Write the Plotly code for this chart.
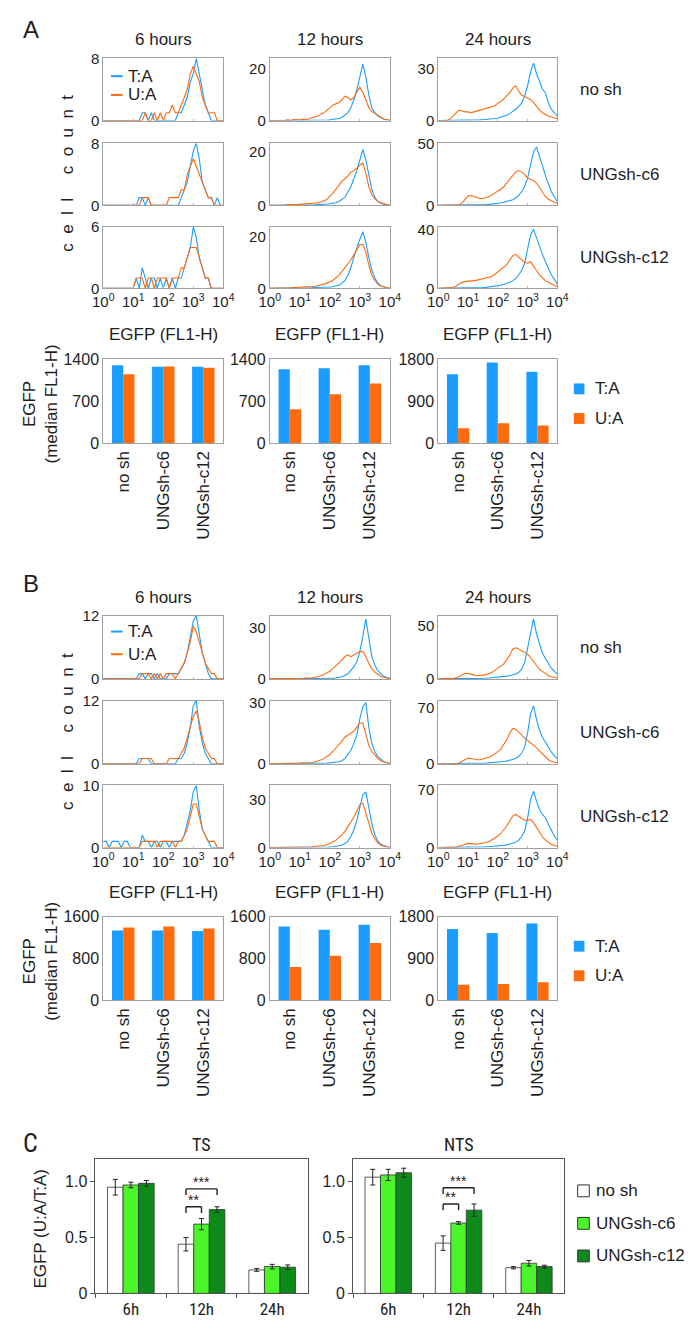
import plotly.graph_objects as go

W, H = 693, 1325
FONT = "Liberation Sans, Arial, Helvetica, sans-serif"
NARROW = "Liberation Sans Narrow, Arial Narrow, Roboto Condensed, DejaVu Sans Condensed, Liberation Sans, sans-serif"
BLUE = "#1a9dff"
ORANGE = "#ff6a0d"
LIGHT_GREEN = "#4cf52a"
DARK_GREEN = "#0c8a1a"
BOX = "#a0a0a0"
TXT = "#1e1e1e"

# ---------------- data ----------------
LOG_BINS = [0.0, 0.1, 0.2, 0.3, 0.4, 0.5, 0.6, 0.7, 0.8, 0.9,
            1.0, 1.1, 1.2, 1.3, 1.4, 1.5, 1.6, 1.7, 1.8, 1.9,
            2.0, 2.1, 2.2, 2.3, 2.4, 2.5, 2.6, 2.7, 2.8, 2.9,
            3.0, 3.1, 3.2, 3.3, 3.4, 3.5, 3.6, 3.7, 3.8, 3.9, 4.0]
DECADES = [1, 10, 100, 1000, 10000]
DECADE_TEXT = ["10<sup>0</sup>", "10<sup>1</sup>", "10<sup>2</sup>", "10<sup>3</sup>", "10<sup>4</sup>"]
TIMES_TITLE = ["6 hours", "12 hours", "24 hours"]
GROUPS = ["no sh", "UNGsh-c6", "UNGsh-c12"]

# Panel A histograms (cell count per bin)
A_6h_nosh_TA = [0,0,0,0,0,0,0,0,0,0, 0,0,0,1,1,0,1,0,0,0, 0,0,0,0,0,1,1,2,3,5, 6,8,6,4,2,1,0,0,0,0, 0]
A_6h_nosh_UA = [0,0,0,0,0,0,0,0,0,0, 0,0,0,0,1,0,0,1,0,1, 0,1,1,2,1,1,2,3,4,6, 7,6,5,3,2,1,1,1,0,0, 0]
A_6h_c6_TA = [0,0,0,0,0,0,0,0,0,0, 0,0,1,1,0,1,0,0,0,0, 0,0,0,0,0,0,1,2,3,5, 7,8,6,3,2,1,1,0,1,0, 0]
A_6h_c6_UA = [0,0,0,0,0,0,0,0,0,0, 0,0,0,1,1,1,0,0,0,0, 0,0,1,1,1,1,2,2,4,5, 6,5,4,3,2,1,1,0,0,0, 0]
A_6h_c12_TA = [0,0,0,0,0,0,0,0,0,0, 0,1,0,2,1,0,1,1,0,1, 0,1,0,1,0,1,1,2,3,4, 6,5,3,2,1,1,0,0,0,0, 0]
A_6h_c12_UA = [0,0,0,0,0,0,0,0,0,0, 0,1,1,1,0,1,1,0,1,1, 1,1,0,1,1,1,2,2,3,4, 4,4,3,2,1,1,0,0,0,0, 0]

A_12h_nosh_TA = [0,0,0,0,0,0,0,0,0,0, 0,0,0,0,0,0,0,0,0.2,0.2, 0.3,0.4,0.5,0.8,1.2,2,3,5,8,12, 17,22,17,10,5,3,1.8,1,0.5,0.3, 0.1]
A_12h_nosh_UA = [0,0,0,0,0,0,0.3,0,0.4,0.3, 0.3,0.5,0.4,0.7,1,1.2,1.8,2.5,3,4, 5,6,6.5,7,8,9.5,9,8,9,11, 13,11,8,5,3.5,3,2,1.2,0.6,0.3, 0.1]
A_12h_c6_TA = [0,0,0,0,0,0,0,0,0,0, 0,0,0,0,0.2,0.2,0.3,0.3,0.4,0.5, 0.6,0.8,1,1.5,2.2,3,5,7,10,13, 17,21,17,11,6,3,1.5,0.8,0.4,0.2, 0]
A_12h_c6_UA = [0,0,0,0,0.2,0,0.3,0.2,0.3,0.3, 0.4,0.3,0.5,0.5,0.6,0.8,1,1.3,1.7,2.2, 3.5,4.5,6,7.5,9,10,11,12.5,13,14, 15,16,12,7,4,2.5,1.5,1,0.5,0.2, 0.1]
A_12h_c12_TA = [0,0,0,0,0,0,0,0,0,0, 0,0,0,0,0.2,0.3,0.3,0.3,0.4,0.4, 0.5,0.6,0.8,1.2,2,3,5,8,12,16, 19,22,18,12,7,4,2,1,0.5,0.2, 0]
A_12h_c12_UA = [0,0,0,0,0,0,0,0.2,0.3,0.2, 0.3,0.5,0.5,0.6,0.7,0.8,1,1.2,1.6,2, 2.5,3,4,5,6.5,8,9.5,11,13,15, 17,17,14,9,5,3,1.5,0.8,0.4,0.2, 0.1]

A_24h_nosh_TA = [0,0,0,0,0,0,0,0,0,0, 0,0.1,0.2,0.3,0.4,0.5,0.6,0.8,1,1.2, 1.5,2,2.5,3,4,5,6.5,8,10,14, 20,28,33,27,22,18,16,10,6.5,4.5, 2.5]
A_24h_nosh_UA = [0,0,0,0,1,2.5,4.5,6,5.5,5, 5,4.5,5,5.5,6,6.5,7,7.5,8,8.5, 10,11,12.5,14,16,18.5,20,17,14.5,14, 13,12,10.5,8,6,4.5,3.5,2.5,2,1.5, 1]
A_24h_c6_TA = [0,0,0,0,0,0,0,0,0,0, 0,0,0.2,0.3,0.4,0.5,0.6,0.8,1,1.2, 1.5,2,2.5,3,3.5,4.5,6,8,11,15, 22,33,43,47,40,32,24,17,11,7, 3]
A_24h_c6_UA = [0,0,0,0,0,0,0,0.5,2,5, 7.5,8,7,6,5.5,5.5,6,7,8.5,10, 11,13,15,18,21,24,27,28,27,25, 22,21,20,18,14,10,7,5,3.5,2.5, 1.5]
A_24h_c12_TA = [0,0,0,0,0,0,0,0,0,0, 0,0,0.2,0.3,0.4,0.5,0.6,0.8,1,1.3, 1.6,2,2.5,3,4,5,6.5,9,12,17, 26,36,40,34,28,23,18,13,9,6, 3]
A_24h_c12_UA = [0,0,0,0,0,0.5,1.5,3,4,4.5, 5,5,5,5.5,5.5,6,6.5,7,8,9.5, 11,12.5,14,16,19,22,23,21,19,17.5, 17,18,15,12,9,7,5,4,3,2, 1]

# Panel B histograms
B_6h_nosh_TA = [0,0,0,0,0,0,0,0,0,0, 0,0,1,1,0,1,1,0,1,0, 0,0,1,1,1,1,2,3,5,8, 11,12,8,5,3,1,0,0,0,0, 0]
B_6h_nosh_UA = [0,0,0,0,0,0,0,0,0,0, 0,0,0,1,1,1,0,1,0,1, 0,1,1,1,0,1,2,3,5,7, 10,9,7,5,3,2,1,1,0,0, 0]
B_6h_c6_TA = [0,0,0,0,0,0,0,0,0,0, 0,0,1,1,1,1,0,0,0,0, 0,0,0,0,0,1,1,2,4,7, 11,12,7,4,2,1,0,0,0,0, 0]
B_6h_c6_UA = [0,0,0,0,0,0,0,0,0,0, 0,0,0,1,1,1,1,0,0,0, 0,0,1,1,1,1,2,3,5,7, 9,10,8,5,3,2,1,1,0,0, 0]
B_6h_c12_TA = [1,1,0,1,1,1,0,1,1,0, 0,0,0,2,1,1,0,1,1,0, 1,1,0,1,1,1,1,2,4,6, 9,10,6,3,2,1,0,0,0,0, 0]
B_6h_c12_UA = [0,0,0,0,0,0,0,0,0,0, 0,0,0,1,1,1,1,1,0,1, 1,1,1,1,0,1,1,2,3,5, 7,7,5,3,2,1,1,1,0,0, 0]

B_12h_nosh_TA = [0,0,0,0,0,0,0,0,0,0, 0,0,0,0,0,0,0,0,0,0.2, 0.3,0.4,0.5,0.8,1.2,2,3,5,7,10, 16,25,35,24,13,8,5,3,1.5,0.8, 0.3]
B_12h_nosh_UA = [0,0,0,0,0,0,0.4,0.3,0,0.3, 0.3,0.4,0.5,0.4,0.6,0.8,1.2,2,2.5,3.5, 4.5,6,7.5,9,11,13,14,13,14,15, 16,16,13,9,6,4,2.5,1.5,0.8,0.5, 0.2]
B_12h_c6_TA = [0,0,0,0,0,0,0,0,0,0, 0,0,0,0,0,0,0.2,0.2,0.3,0.3, 0.4,0.5,0.7,1,1.5,2.5,4.5,6.5,10,14, 22,28,30,18,10,6,3.5,2,1,0.5, 0.2]
B_12h_c6_UA = [0,0,0,0,0,0,0,0.3,0.3,0.3, 0.3,0.4,0.4,0.5,0.6,0.8,1.2,1.8,2.5,3.5, 4.5,6,7.5,9,11,13,14,15,16,18, 20,20,14,9,6,4,2.5,1.5,0.8,0.4, 0.2]
B_12h_c12_TA = [0,0,0,0,0,0,0,0,0,0, 0,0,0,0,0,0.2,0.2,0.3,0.3,0.3, 0.4,0.5,0.7,1,1.5,2.5,4,7,11,17, 25,33,35,25,15,8,4,2,1,0.5, 0.2]
B_12h_c12_UA = [0,0,0,0,0,0,0,0,0,0, 0,0.3,0.3,0.4,0.5,0.6,0.8,1,1.3,1.8, 2.5,3.5,4.5,6,8,10,13,16,19,23, 27,28,22,15,9,5.5,3,1.5,0.8,0.4, 0.2]

B_24h_nosh_TA = [0,0,0,0,0,0,0,0,0,0, 0,0,0.2,0.3,0.4,0.5,0.6,0.8,1,1.2, 1.5,1.8,2.2,2.6,3,3.5,4.5,6,9,15, 28,44,56,42,32,24,19,14,10,7, 4.5]
B_24h_nosh_UA = [0,0,0,0,0,0.5,1,2,4,5, 5,4,3.5,3,3,3.5,4,5,6,8, 10,12,14,18,22,28,29,28,26,25, 23,20,16,12,9,7,5,3,2,1.5, 1]
B_24h_c6_TA = [0,0,0,0,0,0,0,0,0,0, 0,0,0.3,0.5,0.6,0.7,0.8,1,1.2,1.5, 1.8,2.2,2.7,3.2,4,5,6.5,9,13,20, 38,62,72,55,42,33,27,20,14.5,10, 6]
B_24h_c6_UA = [0,0,0,0,0,0,0,1,3,5.5, 7,6.5,5.5,5,5,6,7,8,10,12, 15,18,24,30,38,44,43,40,36,32, 29,27,24,20,16,12,8,5,3,2, 1]
B_24h_c12_TA = [0,0,0,0,0,0,0,0,0,0, 0,0,0.3,0.5,0.6,0.7,0.8,1,1.2,1.5, 1.8,2.2,2.7,3.2,4,5,6.5,9,13,20, 35,58,68,56,46,40,36,28,21,14, 9]
B_24h_c12_UA = [0,0,0,0,0,0,0.5,1.5,3,4, 5,5,4.5,4,4.5,5,6,7,9,11, 14,17,21,26,32,38,40,38,35,33, 33,34,30,24,18,13,9,6,4,2.5, 1.5]

A_HIST_YMAX = [[8, 24.2, 35.7], [8, 23.3, 50], [6, 23.8, 41.5]]
A_HIST_YTICK = [[8, 20, 30], [8, 20, 50], [6, 20, 40]]
B_HIST_YMAX = [[12, 37, 59], [12, 31, 78.6], [10, 39, 75]]
B_HIST_YTICK = [[12, 30, 50], [12, 30, 70], [10, 30, 70]]

# median EGFP bars
A_6h_TA = [1300, 1275, 1275]
A_6h_UA = [1150, 1278, 1258]
A_12h_TA = [1235, 1252, 1300]
A_12h_UA = [565, 818, 994]
A_24h_TA = [1480, 1730, 1530]
A_24h_UA = [320, 427, 377]
B_6h_TA = [1336, 1336, 1324]
B_6h_UA = [1393, 1412, 1374]
B_12h_TA = [1412, 1349, 1443]
B_12h_UA = [640, 853, 1098]
B_24h_TA = [1532, 1447, 1650]
B_24h_UA = [339, 353, 390]
A_BAR_YMAX = [1400, 1400, 1800]
B_BAR_YMAX = [1600, 1600, 1800]

# Panel C
C_TIMES = ["6h", "12h", "24h"]
C_SERIES = ["no sh", "UNGsh-c6", "UNGsh-c12"]
TS_nosh = [0.95, 0.44, 0.21]
TS_nosh_err = [0.07, 0.06, 0.012]
TS_c6 = [0.97, 0.62, 0.24]
TS_c6_err = [0.025, 0.05, 0.02]
TS_c12 = [0.985, 0.75, 0.235]
TS_c12_err = [0.025, 0.025, 0.02]
NTS_nosh = [1.04, 0.45, 0.23]
NTS_nosh_err = [0.07, 0.065, 0.01]
NTS_c6 = [1.06, 0.63, 0.27]
NTS_c6_err = [0.05, 0.012, 0.025]
NTS_c12 = [1.08, 0.745, 0.24]
NTS_c12_err = [0.04, 0.055, 0.012]
# significance brackets: (from series, to series, label, level)
TS_SIG = [(0, 2, "***", 0.935), (0, 1, "**", 0.775)]
NTS_SIG = [(0, 2, "***", 0.945), (0, 1, "**", 0.80)]

for arr in [A_6h_nosh_TA, A_6h_nosh_UA, A_6h_c6_TA, A_6h_c6_UA, A_6h_c12_TA, A_6h_c12_UA,
            A_12h_nosh_TA, A_12h_nosh_UA, A_12h_c6_TA, A_12h_c6_UA, A_12h_c12_TA, A_12h_c12_UA,
            A_24h_nosh_TA, A_24h_nosh_UA, A_24h_c6_TA, A_24h_c6_UA, A_24h_c12_TA, A_24h_c12_UA,
            B_6h_nosh_TA, B_6h_nosh_UA, B_6h_c6_TA, B_6h_c6_UA, B_6h_c12_TA, B_6h_c12_UA,
            B_12h_nosh_TA, B_12h_nosh_UA, B_12h_c6_TA, B_12h_c6_UA, B_12h_c12_TA, B_12h_c12_UA,
            B_24h_nosh_TA, B_24h_nosh_UA, B_24h_c6_TA, B_24h_c6_UA, B_24h_c12_TA, B_24h_c12_UA]:
    assert len(arr) == len(LOG_BINS), len(arr)

X_FL = [10 ** p for p in LOG_BINS]

A_HIST = [[(A_6h_nosh_TA, A_6h_nosh_UA), (A_12h_nosh_TA, A_12h_nosh_UA), (A_24h_nosh_TA, A_24h_nosh_UA)],
          [(A_6h_c6_TA, A_6h_c6_UA), (A_12h_c6_TA, A_12h_c6_UA), (A_24h_c6_TA, A_24h_c6_UA)],
          [(A_6h_c12_TA, A_6h_c12_UA), (A_12h_c12_TA, A_12h_c12_UA), (A_24h_c12_TA, A_24h_c12_UA)]]
B_HIST = [[(B_6h_nosh_TA, B_6h_nosh_UA), (B_12h_nosh_TA, B_12h_nosh_UA), (B_24h_nosh_TA, B_24h_nosh_UA)],
          [(B_6h_c6_TA, B_6h_c6_UA), (B_12h_c6_TA, B_12h_c6_UA), (B_24h_c6_TA, B_24h_c6_UA)],
          [(B_6h_c12_TA, B_6h_c12_UA), (B_12h_c12_TA, B_12h_c12_UA), (B_24h_c12_TA, B_24h_c12_UA)]]
A_BARS = [(A_6h_TA, A_6h_UA), (A_12h_TA, A_12h_UA), (A_24h_TA, A_24h_UA)]
B_BARS = [(B_6h_TA, B_6h_UA), (B_12h_TA, B_12h_UA), (B_24h_TA, B_24h_UA)]

# ---------------- layout geometry (pixels) ----------------
COL_X = [(87, 211), (259, 383), (433, 556)]
A_ROWS = [(42, 105), (128, 191), (213, 275)]
B_ROWS = [(607, 671), (693, 757), (779, 842)]
A_BAR_Y = (347, 432)
B_BAR_Y = (912, 997)
C_BOXES = [(79, 298), (345, 563)]
C_Y = (1158, 1294)

fig = go.Figure()
axes_layout = {}
annotations = []
shapes = []
counter = [0]


def px(x):
    return x / W


def py(y):
    return 1 - y / H


def new_axes(x0, x1, y0, y1, xcfg, ycfg):
    counter[0] += 1
    n = counter[0]
    s = "" if n == 1 else str(n)
    xcfg = dict(xcfg, domain=[px(x0), px(x1)], anchor="y" + s)
    ycfg = dict(ycfg, domain=[py(y1), py(y0)], anchor="x" + s)
    axes_layout["xaxis" + s] = xcfg
    axes_layout["yaxis" + s] = ycfg
    return "x" + s, "y" + s


def ann(text, x, y, size=17, xanchor="center", yanchor="middle", angle=0, family=FONT, color=TXT):
    annotations.append(dict(text=text, x=px(x), y=py(y), xref="paper", yref="paper",
                            xanchor=xanchor, yanchor=yanchor, showarrow=False, textangle=angle,
                            font=dict(size=size, family=family, color=color)))


def frame(color=BOX):
    return dict(showline=True, mirror=True, linecolor=color, linewidth=1,
                showgrid=False, zeroline=False)


def hist_block(data, rows, ymax, ytick):
    for r in range(3):
        for c in range(3):
            ta, ua = data[r][c]
            xa, ya = new_axes(COL_X[c][0], COL_X[c][1], rows[r][0], rows[r][1],
                              dict(frame(), type="log", range=[0, 4], tickvals=DECADES,
                                   ticktext=DECADE_TEXT, showticklabels=(r == 2), ticks="inside",
                                   ticklen=2, tickcolor="#bbbbbb", tickfont=dict(size=15)),
                              dict(frame(), range=[0, ymax[r][c]], tickvals=[0, ytick[r][c]],
                                   ticks="", tickfont=dict(size=15)))
            fig.add_trace(go.Scatter(x=X_FL, y=ta, xaxis=xa, yaxis=ya, mode="lines",
                                     line=dict(color=BLUE, width=1.1), name="T:A"))
            fig.add_trace(go.Scatter(x=X_FL, y=ua, xaxis=xa, yaxis=ya, mode="lines",
                                     line=dict(color=ORANGE, width=1.1), name="U:A"))


BAR_W = 0.28


def bar_block(data, ybox, ymaxes):
    for c in range(3):
        ta, ua = data[c]
        ym = ymaxes[c]
        xa, ya = new_axes(COL_X[c][0], COL_X[c][1], ybox[0], ybox[1],
                          dict(frame(), type="category", categoryorder="array", categoryarray=GROUPS,
                               range=[-0.5, 2.5], tickangle=-90, ticks="", tickfont=dict(size=17)),
                          dict(frame(), range=[0, ym], tickvals=[0, ym / 2, ym],
                               ticktext=["0", str(int(ym / 2)), str(ym)], ticks="",
                               tickfont=dict(size=16)))
        fig.add_trace(go.Bar(x=GROUPS, y=ta, width=BAR_W, offset=-BAR_W, marker_color=BLUE,
                             marker_line_width=0, xaxis=xa, yaxis=ya, name="T:A"))
        fig.add_trace(go.Bar(x=GROUPS, y=ua, width=BAR_W, offset=0, marker_color=ORANGE,
                             marker_line_width=0, xaxis=xa, yaxis=ya, name="U:A"))


def panel_texts(rows, bar_y, title_y, xlabel_y, leg_y, barleg_y, panel_letter, letter_y):
    ann(panel_letter, 2, letter_y, size=24, xanchor="left")
    for c in range(3):
        cx = (COL_X[c][0] + COL_X[c][1]) / 2
        ann(TIMES_TITLE[c], cx, title_y, size=17)
        ann("EGFP (FL1-H)", cx, xlabel_y, size=17)
    for r in range(3):
        ann(GROUPS[r], 577, (rows[r][0] + rows[r][1]) / 2, size=17, xanchor="left")
    sp = "&nbsp;"
    cc = (sp * 2).join(list("cell")) + sp * 5 + (sp * 2).join(list("count"))
    ann(cc, 50, (rows[0][0] + rows[2][1]) / 2, size=17, angle=-90)
    ann("EGFP<br>(median FL1-H)", 22, (bar_y[0] + bar_y[1]) / 2 + 3, size=17, angle=-90)
    # histogram legend
    for i, (lab, col) in enumerate([("T:A", BLUE), ("U:A", ORANGE)]):
        yy = leg_y[i]
        shapes.append(dict(type="line", xref="paper", yref="paper", x0=px(95), x1=px(107),
                           y0=py(yy), y1=py(yy), line=dict(color=col, width=2)))
        ann(lab, 111, yy, size=17, xanchor="left")
    # bar legend
    for i, (lab, col) in enumerate([("T:A", BLUE), ("U:A", ORANGE)]):
        yy = barleg_y[i]
        shapes.append(dict(type="rect", xref="paper", yref="paper", x0=px(573), x1=px(584),
                           y0=py(yy + 5.5), y1=py(yy - 5.5), fillcolor=col, line=dict(width=0)))
        ann(lab, 593, yy, size=17, xanchor="left")


# ---------------- panels A and B ----------------
hist_block(A_HIST, A_ROWS, A_HIST_YMAX, A_HIST_YTICK)
bar_block(A_BARS, A_BAR_Y, A_BAR_YMAX)
panel_texts(A_ROWS, A_BAR_Y, 23, 322, (60, 79), (377, 407), "A", 13)

hist_block(B_HIST, B_ROWS, B_HIST_YMAX, B_HIST_YTICK)
bar_block(B_BARS, B_BAR_Y, B_BAR_YMAX)
panel_texts(B_ROWS, B_BAR_Y, 588, 888, (623, 646), (942, 972), "B", 574)

# ---------------- panel C ----------------
C_BW = 0.22
C_OFFS = [-1.5 * C_BW, -0.5 * C_BW, 0.5 * C_BW]
C_COLORS = ["#ffffff", LIGHT_GREEN, DARK_GREEN]
C_DATA = [("TS", [(TS_nosh, TS_nosh_err), (TS_c6, TS_c6_err), (TS_c12, TS_c12_err)], TS_SIG),
          ("NTS", [(NTS_nosh, NTS_nosh_err), (NTS_c6, NTS_c6_err), (NTS_c12, NTS_c12_err)], NTS_SIG)]

ann("C", 2, 1142, size=26, xanchor="left", family=NARROW)
for k, (title, series, sig) in enumerate(C_DATA):
    x0, x1 = C_BOXES[k]
    xa, ya = new_axes(x0, x1, C_Y[0], C_Y[1],
                      dict(frame("#555555"), type="category", categoryorder="array",
                           categoryarray=C_TIMES, range=[-0.5, 2.5], ticks="outside",
                           tickson="boundaries", ticklen=4, tickcolor="#555555",
                           tickfont=dict(size=17, family=NARROW)),
                      dict(frame("#555555"), range=[0, 1.2], tickvals=[0, 0.5, 1.0],
                           ticktext=["0", "0.5", "1.0"], ticks="outside", ticklen=4,
                           tickcolor="#555555", tickfont=dict(size=16)))
    for j, (vals, errs) in enumerate(series):
        fig.add_trace(go.Bar(x=C_TIMES, y=vals, width=C_BW, offset=C_OFFS[j],
                             marker=dict(color=C_COLORS[j], line=dict(color="#333333", width=0.8)),
                             error_y=dict(type="data", array=errs, color="#222222",
                                          thickness=1, width=2.5),
                             xaxis=xa, yaxis=ya, name=C_SERIES[j]))
    for (a, b, label, lvl) in sig:
        xa_c = 1 + C_OFFS[a] + C_BW / 2
        xb_c = 1 + C_OFFS[b] + C_BW / 2
        for (sx0, sy0, sx1, sy1) in [(xa_c, lvl - 0.055, xa_c, lvl), (xa_c, lvl, xb_c, lvl),
                                     (xb_c, lvl, xb_c, lvl - 0.055)]:
            shapes.append(dict(type="line", xref=xa, yref=ya, x0=sx0, y0=sy0, x1=sx1, y1=sy1,
                               line=dict(color="#222222", width=1.4)))
        annotations.append(dict(text=label, x=(xa_c + xb_c) / 2, y=lvl, xref=xa, yref=ya,
                                xanchor="center", yanchor="bottom", showarrow=False, yshift=-3,
                                font=dict(size=14, family=FONT, color=TXT)))
    ann(title, (x0 + x1) / 2, 1143, size=18, family=NARROW)

ann("EGFP (U:A/T:A)", 22, 1228, size=17, angle=-90)
for i, (lab, col) in enumerate(zip(C_SERIES, C_COLORS)):
    yy = [1190, 1223, 1256][i]
    shapes.append(dict(type="rect", xref="paper", yref="paper", x0=px(577), x1=px(589),
                       y0=py(yy + 6), y1=py(yy - 6), fillcolor=col,
                       line=dict(color="#333333", width=1)))
    ann(lab, 594, yy, size=17, xanchor="left")

fig.update_layout(
    width=W, height=H, margin=dict(l=0, r=0, t=0, b=0),
    paper_bgcolor="white", plot_bgcolor="white", showlegend=False,
    barmode="overlay", font=dict(family=FONT, size=16, color=TXT),
    annotations=annotations, shapes=shapes, **axes_layout)

fig.write_html("out.html")
